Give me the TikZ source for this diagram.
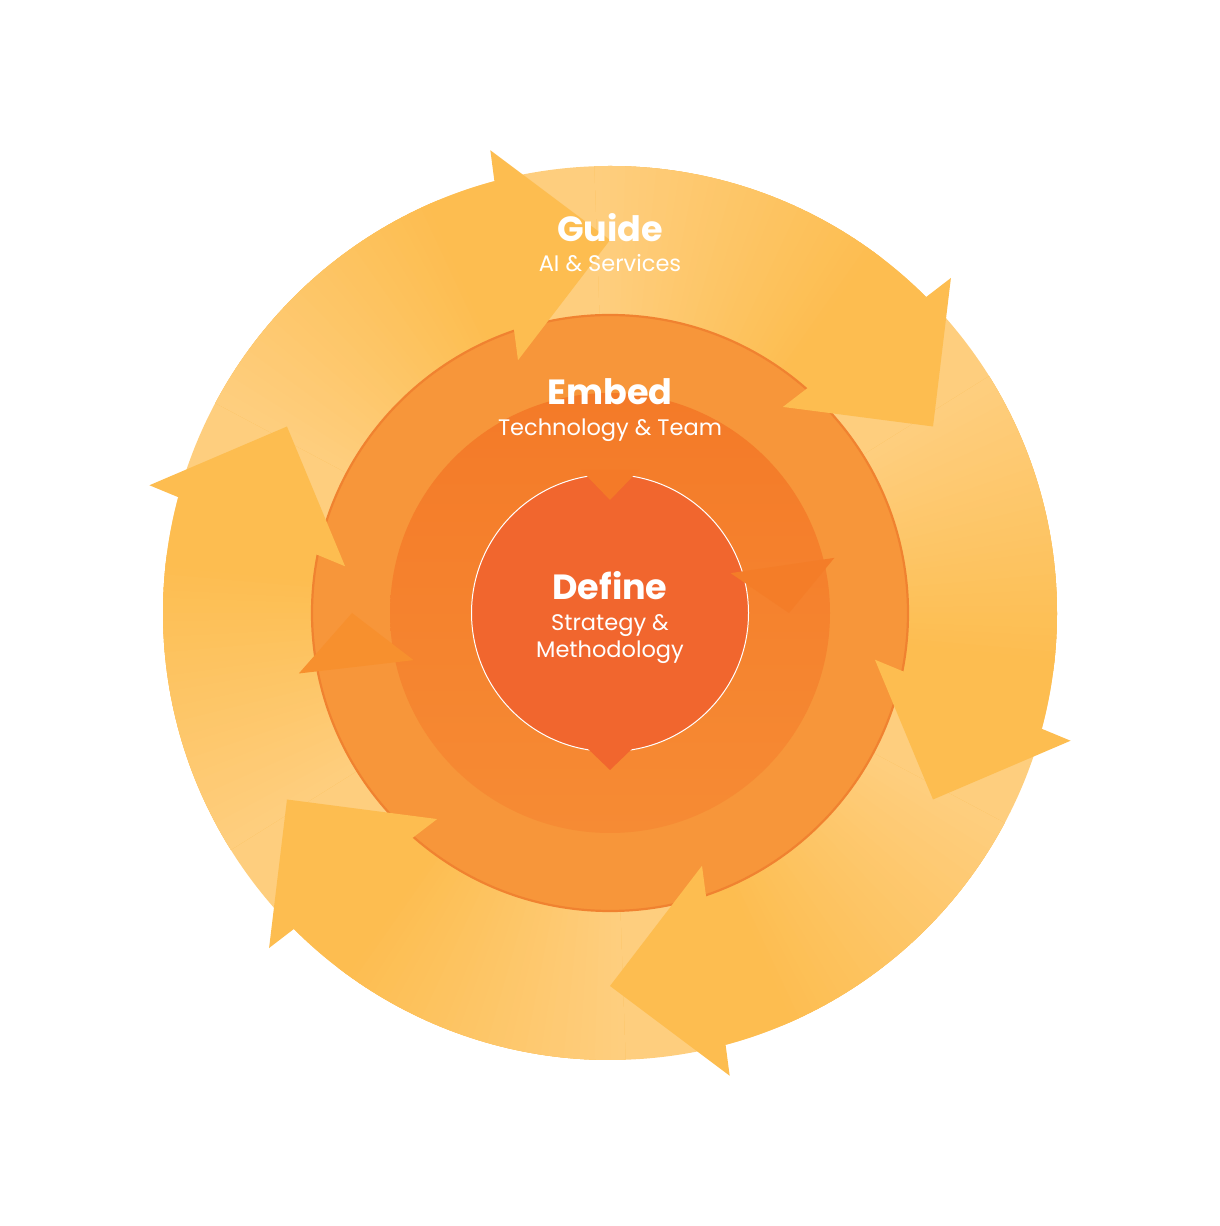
\documentclass[tikz,border=0pt]{standalone}
\usepackage{fontspec}
\setmainfont{Poppins}
\definecolor{lightY}{RGB}{254,206,126}
\definecolor{fullY}{RGB}{253,189,80}
\definecolor{midO}{RGB}{247,150,58}
\definecolor{midBorder}{RGB}{240,130,48}
\definecolor{innTop}{RGB}{244,122,40}
\definecolor{innBot}{RGB}{246,139,52}
\definecolor{innHead}{RGB}{244,125,40}
\definecolor{midHead}{RGB}{247,144,46}
\definecolor{defC}{RGB}{241,102,46}
\tikzset{
  titletext/.style={text=white, font=\fontsize{35}{40}\selectfont\bfseries, anchor=base, inner sep=0pt},
  subtext/.style={text=white, font=\fontsize{22.5}{27}\selectfont, anchor=base, inner sep=0pt},
  headfill/.style={fill=fullY},
}
\begin{document}
\begin{tikzpicture}[x=1pt,y=1pt]
\useasboundingbox (0,0) rectangle (1220,1226);
\begin{scope}[shift={(610,613)}]
  % outer disk
  \fill[lightY] (0,0) circle (447);
  % solid bodies
  \foreach \T in {90,30,-30,-90,-150,-210} {
    \fill[fullY] (\T+62:280) arc[start angle=\T+62, end angle=\T+15, radius=280]
      -- (\T+15:447) arc[start angle=\T+15, end angle=\T+62, radius=447] -- cycle;
  }
  % gradient tails
  \foreach \T in {90,30,-30,-90,-150,-210} {
    \foreach \i in {0,...,38} {
      \pgfmathtruncatemacro\pmix{100*\i/38}
      \pgfmathsetmacro\angA{\T+62-\i}
      \pgfmathsetmacro\angB{\T+60.5-\i}
      \fill[fullY!\pmix!lightY] (\angA:280) arc[start angle=\angA, end angle=\angB, radius=280]
        -- (\angB:447) arc[start angle=\angB, end angle=\angA, radius=447] -- cycle;
    }
  }
  % middle disk
  \fill[midO, draw=midBorder, line width=2.2pt] (0,0) circle (298);
  % inner disk
  \shade[top color=innTop, bottom color=innBot] (0,0) circle (220);
  % define disk
  \fill[defC, draw=white, line width=1pt] (0,0) circle (138.5);
  % top notch and bottom point
  \fill[innTop] (-29,143) -- (29,143) -- (0,113) -- cycle;
  \fill[defC] (-25,-133) -- (25,-133) -- (0,-157) -- cycle;
  % inner ring head (right) and middle ring head (left)
  \fill[innHead] (18.3:127) -- (13.8:231) -- (0:179) -- cycle;
  \fill[midHead] (191:317) -- (180:258) -- (193.5:202) -- cycle;
  % outer heads
  \foreach \T in {90,30,-30,-90,-150,-210} {
    \fill[headfill] (\T+14.5:478) -- (\T:373) -- (\T+20:269) -- cycle;
  }
\end{scope}
% texts
\node[titletext] (guide) at (610,984) {Guide};
\node[subtext] (guidesub) at (610,954) {AI \& Services};
\node[titletext] (embed) at (610,821) {Embed};
\node[subtext] (embedsub) at (610,790) {Technology \& Team};
\node[titletext] (define) at (610,626) {Define};
\node[subtext] (definesub1) at (610,595) {Strategy \&};
\node[subtext] (definesub2) at (610,568) {Methodology};
\end{tikzpicture}
\end{document}
